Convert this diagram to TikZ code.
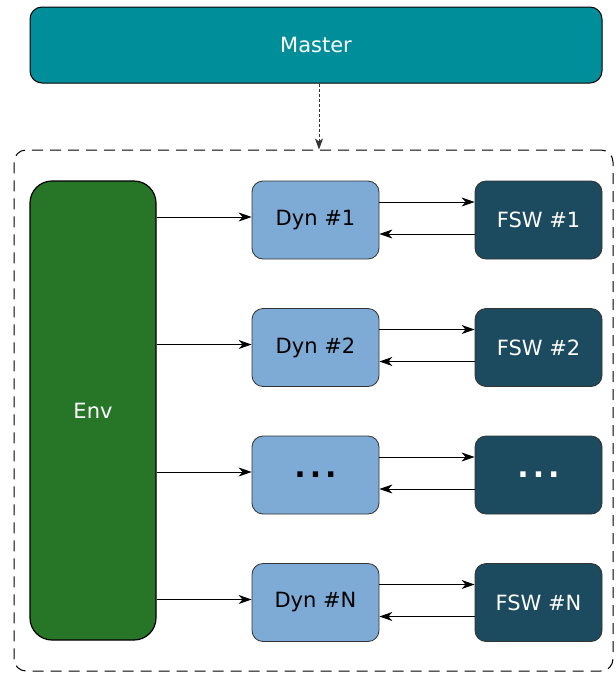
\documentclass[tikz,border=0pt]{standalone}
\usepackage{fontspec}
\setmainfont{DejaVu Sans}
\usepackage{tikz}
\usetikzlibrary{positioning, arrows.meta}
\usepackage{xcolor}

\definecolor{mastercol}{HTML}{008E9B}
\definecolor{envcol}{HTML}{277527}
\definecolor{dyncol}{HTML}{7EAAD6}
\definecolor{fswcol}{HTML}{1C4A5E}

\newcommand{\dotsrow}{\fontsize{30}{30}\selectfont\bfseries .\kern4pt.\kern4pt.}

\begin{document}
\begin{tikzpicture}[x=1pt, y=1pt, node distance=127.5pt, every node/.style={font=\fontsize{21}{25}\selectfont}]
  \tikzstyle{master} = [rectangle, rounded corners=12pt, minimum width=572pt, minimum height=76pt, text centered, draw=black, line width=1pt, fill=mastercol, text=white]
  \tikzstyle{envbox} = [rectangle, rounded corners=22pt, minimum width=126pt, minimum height=459pt, text centered, draw=black, line width=1.2pt, fill=envcol, text=white]
  \tikzstyle{dyn} = [rectangle, rounded corners=11pt, minimum width=127pt, minimum height=78pt, text centered, draw=black!80, line width=0.8pt, fill=dyncol, text=black]
  \tikzstyle{fsw} = [rectangle, rounded corners=11pt, minimum width=127pt, minimum height=78pt, text centered, draw=black!80, line width=0.8pt, fill=fswcol, text=white]
  \tikzstyle{container} = [rectangle, rounded corners=12pt, minimum width=599pt, minimum height=521pt, draw=black, line width=1pt, dash pattern=on 11pt off 7pt]
  \tikzstyle{arrow} = [line width=0.9pt, draw=black, -{Stealth[length=13pt, width=9pt, inset=4pt]}]
  \tikzstyle{dotarrow} = [line width=0.8pt, draw=black!80, dash pattern=on 3pt off 2pt, -{Stealth[length=11pt, width=8pt, inset=3pt]}]

  \useasboundingbox (0,0) rectangle (616,-673);

  \node (master) [master] at (316,-45) {Master};
  \node (box) [container] at (313.5,-410.5) {};
  \node (env) [envbox] at (93,-410.5) {Env};

  \node (dyn1) [dyn] at (315.5,-220) {Dyn \#1};
  \node (dyn2) [dyn, below of=dyn1] {Dyn \#2};
  \node (dyn3) [dyn, below of=dyn2] {\dotsrow};
  \node (dyn4) [dyn, below of=dyn3] {Dyn \#N};

  \node (fsw1) [fsw, right of=dyn1, node distance=223pt] {FSW \#1};
  \node (fsw2) [fsw, right of=dyn2, node distance=223pt] {FSW \#2};
  \node (fsw3) [fsw, right of=dyn3, node distance=223pt] {\dotsrow};
  \node (fsw4) [fsw, right of=dyn4, node distance=223pt] {FSW \#N};

  \draw [dotarrow] ([xshift=3pt]master.south) -- ([xshift=3pt]master.south |- box.north);

  \foreach \i in {1,2,3,4} {
    \draw [arrow] ([yshift=3pt]dyn\i.west -| env.east) -- ([yshift=3pt]dyn\i.west);
    \draw [arrow] ([yshift=18pt]dyn\i.east) -- ([yshift=18pt]fsw\i.west);
    \draw [arrow] ([yshift=-14pt]fsw\i.west) -- ([yshift=-14pt]dyn\i.east);
  }
\end{tikzpicture}
\end{document}
